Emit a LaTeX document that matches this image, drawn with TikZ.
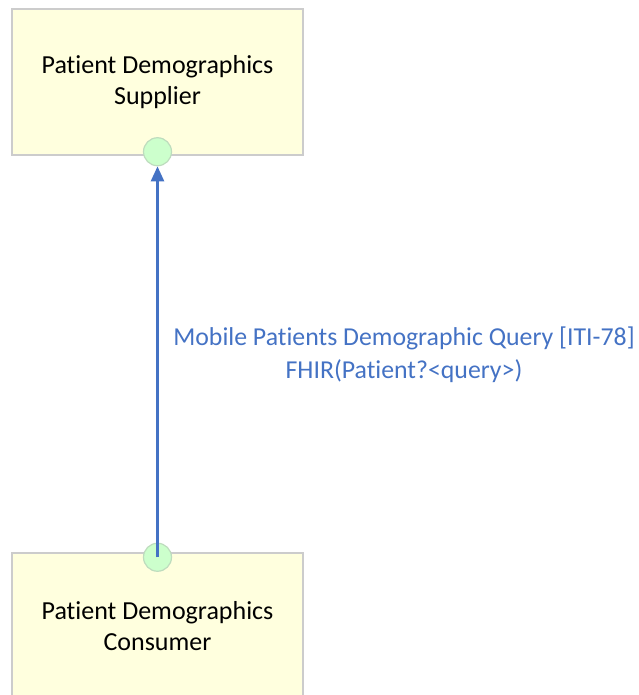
\documentclass[tikz,border=0pt]{standalone}
\usepackage{fontspec}
\setmainfont{Carlito}[Ligatures=NoCommon]
\usepackage{xcolor}
\usetikzlibrary{arrows.meta, positioning}
\definecolor{BoxYellow}{RGB}{255,255,222}
\definecolor{BoxGray}{RGB}{204,204,204}
\definecolor{PortGreen}{RGB}{204,255,204}
\definecolor{PortEdge}{RGB}{190,220,190}
\definecolor{LinkBlue}{RGB}{68,114,196}

\begin{document}
\begin{tikzpicture}[
  x=1pt, y=-1pt,
  font=\fontsize{26}{31}\selectfont,
  actor/.style={rectangle, draw=BoxGray, line width=1.5pt, fill=BoxYellow,
                minimum width=291pt, minimum height=146pt, align=center,
                inner sep=0pt},
  port/.style={circle, draw=PortEdge, line width=1.2pt, fill=PortGreen,
               minimum size=28pt, inner sep=0pt},
  arrow/.style={-{Triangle[length=15pt, width=13pt]}, LinkBlue, line width=2.5pt},
]
\useasboundingbox (0,0) rectangle (638,695);

\node[actor] (supplier) at (157.5,82) {Patient Demographics\\Supplier};
\node[actor] (consumer) at (157.5,626) {Patient Demographics\\Consumer};

\node[port] (sport) at ([yshift=4pt]supplier.south) {};
\node[port] (cport) at ([yshift=-5pt]consumer.north) {};

\draw[arrow] (cport.center) -- (sport);

\node[text=LinkBlue, align=center, font=\fontsize{25.8}{33}\selectfont] (query) at (404,355)
  {Mobile Patients Demographic Query [ITI-78]\\FHIR(Patient?<query>)};

\end{tikzpicture}
\end{document}
